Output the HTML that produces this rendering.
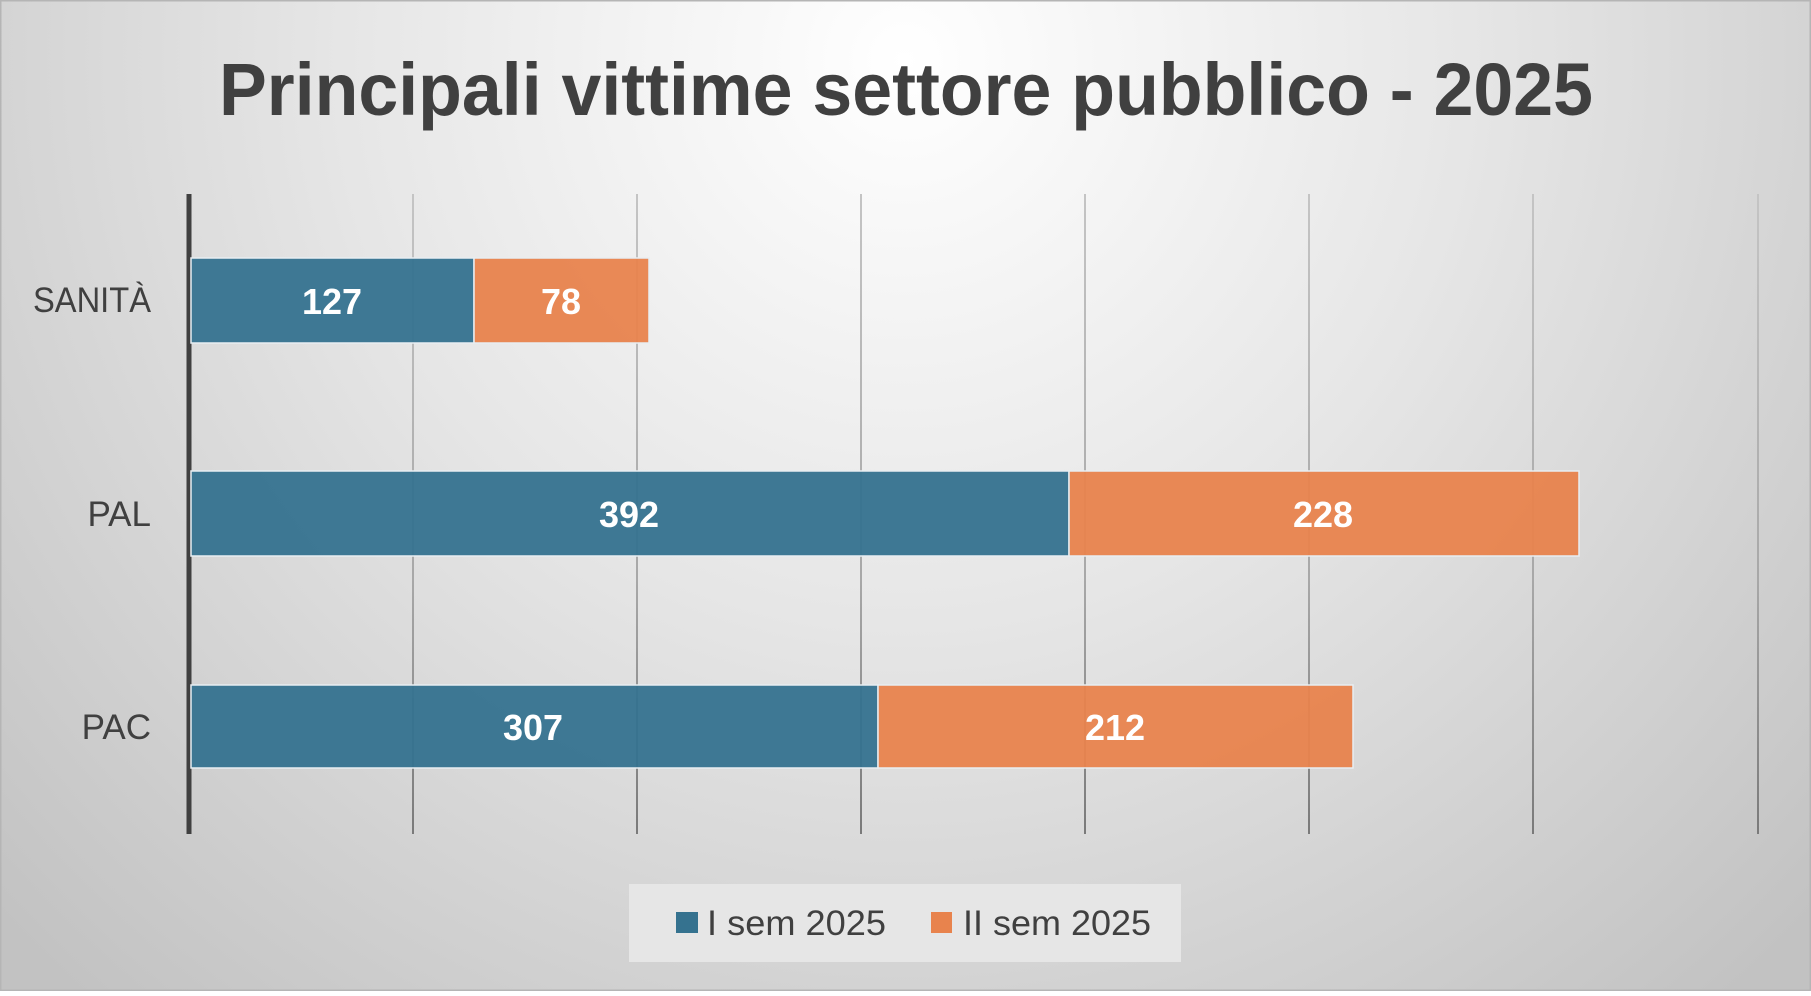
<!DOCTYPE html>
<html><head><meta charset="utf-8"><style>
html,body{margin:0;padding:0}
body{width:1811px;height:991px;overflow:hidden;font-family:"Liberation Sans",sans-serif}
</style></head><body>
<svg width="1811" height="991" viewBox="0 0 1811 991" xmlns="http://www.w3.org/2000/svg">
<defs>
<radialGradient id="bg" cx="905" cy="60" r="1250" gradientUnits="userSpaceOnUse">
<stop offset="0" stop-color="#ffffff"/>
<stop offset="0.45" stop-color="#e6e6e6"/>
<stop offset="1" stop-color="#c2c2c2"/>
</radialGradient>
<linearGradient id="gl" x1="0" y1="194" x2="0" y2="834" gradientUnits="userSpaceOnUse">
<stop offset="0" stop-color="#c4c4c4"/>
<stop offset="0.6" stop-color="#a8a8a8"/>
<stop offset="1" stop-color="#7a7a7a"/>
</linearGradient>
</defs>
<rect x="0" y="0" width="1811" height="991" fill="url(#bg)"/>
<rect x="0.5" y="0.5" width="1810" height="990" fill="none" stroke="#b5b5b5" stroke-width="2"/>
<text x="906" y="115" text-anchor="middle" font-size="74" font-weight="bold" fill="#404040" textLength="1374" lengthAdjust="spacingAndGlyphs">Principali vittime settore pubblico - 2025</text>
<g stroke="url(#gl)" stroke-width="2">
<rect x="412" y="194" width="2" height="640" fill="url(#gl)" stroke="none"/>
<rect x="636" y="194" width="2" height="640" fill="url(#gl)" stroke="none"/>
<rect x="860" y="194" width="2" height="640" fill="url(#gl)" stroke="none"/>
<rect x="1084" y="194" width="2" height="640" fill="url(#gl)" stroke="none"/>
<rect x="1308" y="194" width="2" height="640" fill="url(#gl)" stroke="none"/>
<rect x="1532" y="194" width="2" height="640" fill="url(#gl)" stroke="none"/>
<rect x="1757" y="194" width="2" height="640" fill="url(#gl)" stroke="none"/>
</g>
<line x1="189" y1="194" x2="189" y2="834" stroke="#404040" stroke-width="5"/>
<g stroke="#e8eef2" stroke-width="1.5" fill-opacity="0.95">
<rect x="191" y="258" width="283" height="85" fill="#35728f"/>
<rect x="474" y="258" width="175" height="85" fill="#e8834d"/>
<rect x="191" y="471" width="878" height="85" fill="#35728f"/>
<rect x="1069" y="471" width="510" height="85" fill="#e8834d"/>
<rect x="191" y="685" width="687" height="83" fill="#35728f"/>
<rect x="878" y="685" width="475" height="83" fill="#e8834d"/>
</g>
<g fill="#fff" font-size="36" font-weight="bold" text-anchor="middle">
<text x="332" y="314">127</text>
<text x="561" y="314">78</text>
<text x="629" y="527">392</text>
<text x="1323" y="527">228</text>
<text x="533" y="740">307</text>
<text x="1115" y="740">212</text>
</g>
<g fill="#404040" font-size="35" text-anchor="end">
<text x="151" y="312" textLength="118" lengthAdjust="spacingAndGlyphs">SANITÀ</text>
<text x="151" y="526">PAL</text>
<text x="151" y="739">PAC</text>
</g>
<rect x="629" y="884" width="552" height="78" fill="#e6e6e6"/>
<rect x="676" y="912" width="22" height="21" fill="#35728f"/>
<rect x="931" y="912" width="21" height="21" fill="#e8834d"/>
<g fill="#404040" font-size="35">
<text x="707" y="935" textLength="179" lengthAdjust="spacingAndGlyphs">I sem 2025</text>
<text x="963" y="935" textLength="188" lengthAdjust="spacingAndGlyphs">II sem 2025</text>
</g>
</svg>
</body></html>
